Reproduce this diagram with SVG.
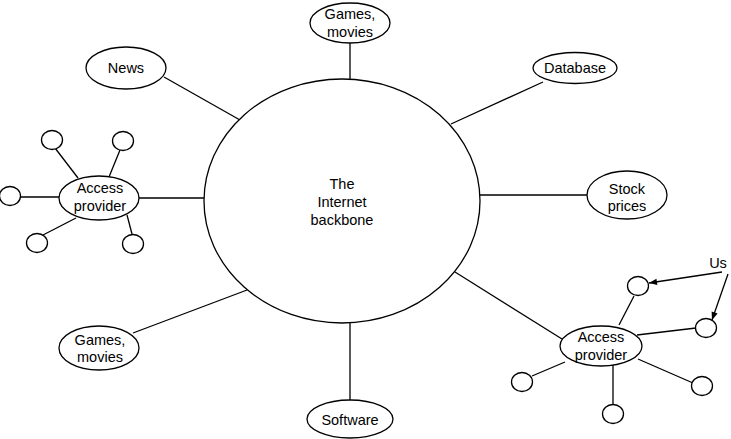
<svg xmlns="http://www.w3.org/2000/svg" width="731" height="439" viewBox="0 0 731 439">
<defs>
<style>
.n{fill:#fff;stroke:#000;stroke-width:1.3}
.c{stroke:#000;stroke-width:1.3;fill:none}
.t{font-family:"Liberation Sans",Arial,sans-serif;font-size:14.5px;fill:#000;text-anchor:middle}
</style>
<marker id="ah" viewBox="0 0 10 10" refX="10" refY="5" markerWidth="10" markerHeight="8" markerUnits="userSpaceOnUse" orient="auto">
<path d="M0,1 L10,5 L0,9 z" fill="#000"/>
</marker>
</defs>
<rect width="731" height="439" fill="#fff"/>
<g id="connectors" class="c">
<line x1="350" y1="43" x2="350" y2="79"/>
<line x1="164" y1="77" x2="240" y2="120"/>
<line x1="543" y1="82" x2="451" y2="124"/>
<line x1="480" y1="195" x2="587" y2="195"/>
<line x1="139" y1="198" x2="204" y2="198"/>
<line x1="133" y1="333" x2="247" y2="290"/>
<line x1="350" y1="323" x2="350" y2="400"/>
<line x1="562" y1="339" x2="455" y2="272"/>
<line x1="55" y1="148" x2="78" y2="178"/>
<line x1="120" y1="150" x2="109" y2="177"/>
<line x1="20" y1="197" x2="59" y2="197"/>
<line x1="43" y1="235" x2="76" y2="218"/>
<line x1="127" y1="215" x2="132" y2="234"/>
<line x1="619" y1="325" x2="634" y2="296"/>
<line x1="637" y1="335" x2="696" y2="328"/>
<line x1="565" y1="362" x2="532" y2="376"/>
<line x1="613" y1="365" x2="613" y2="404"/>
<line x1="638" y1="359" x2="693" y2="383"/>
<line x1="722" y1="272" x2="649" y2="283" marker-end="url(#ah)"/>
<line x1="728" y1="274" x2="712" y2="320" marker-end="url(#ah)"/>
</g>
<g id="backbone"><ellipse class="n" cx="342" cy="201" rx="138" ry="122"/>
<text class="t" x="342" y="189">The</text><text class="t" x="342" y="207">Internet</text><text class="t" x="342" y="225">backbone</text></g>
<g id="games-top"><ellipse class="n" cx="350" cy="23" rx="40" ry="20"/>
<text class="t" x="350" y="19">Games,</text><text class="t" x="350" y="37">movies</text></g>
<g id="news"><ellipse class="n" cx="126" cy="68" rx="40" ry="21"/>
<text class="t" x="126" y="73">News</text></g>
<g id="database"><ellipse class="n" cx="575" cy="68" rx="42" ry="15.5"/>
<text class="t" x="575" y="73">Database</text></g>
<g id="stock"><ellipse class="n" cx="627" cy="195" rx="40" ry="24"/>
<text class="t" x="627" y="194">Stock</text><text class="t" x="627" y="211">prices</text></g>
<g id="access-left"><ellipse class="n" cx="99" cy="198" rx="40" ry="22"/>
<text class="t" x="100" y="193">Access</text><text class="t" x="100" y="211">provider</text></g>
<g id="games-bottom"><ellipse class="n" cx="99" cy="348" rx="40" ry="22"/>
<text class="t" x="100" y="345">Games,</text><text class="t" x="100" y="362">movies</text></g>
<g id="software"><ellipse class="n" cx="350" cy="419" rx="43" ry="19"/>
<text class="t" x="350" y="425">Software</text></g>
<g id="access-right"><ellipse class="n" cx="601" cy="346" rx="41" ry="20"/>
<text class="t" x="601" y="342">Access</text><text class="t" x="601" y="360">provider</text></g>
<g id="hosts-left">
<ellipse class="n" cx="52" cy="140" rx="10.5" ry="9.5"/>
<ellipse class="n" cx="123" cy="141" rx="10.5" ry="9.5"/>
<ellipse class="n" cx="10" cy="196" rx="10.5" ry="9.5"/>
<ellipse class="n" cx="37" cy="243" rx="10.5" ry="9.5"/>
<ellipse class="n" cx="133" cy="244" rx="10.5" ry="9.5"/>
</g>
<g id="hosts-right">
<ellipse class="n" cx="638" cy="286" rx="10.5" ry="9.5"/>
<ellipse class="n" cx="706" cy="328" rx="10.5" ry="9.5"/>
<ellipse class="n" cx="522" cy="382" rx="10.5" ry="9.5"/>
<ellipse class="n" cx="613" cy="414" rx="10.5" ry="9.5"/>
<ellipse class="n" cx="702" cy="386" rx="10.5" ry="9.5"/>
</g>
<g id="us-label"><text class="t" x="718" y="268">Us</text></g>
</svg>
